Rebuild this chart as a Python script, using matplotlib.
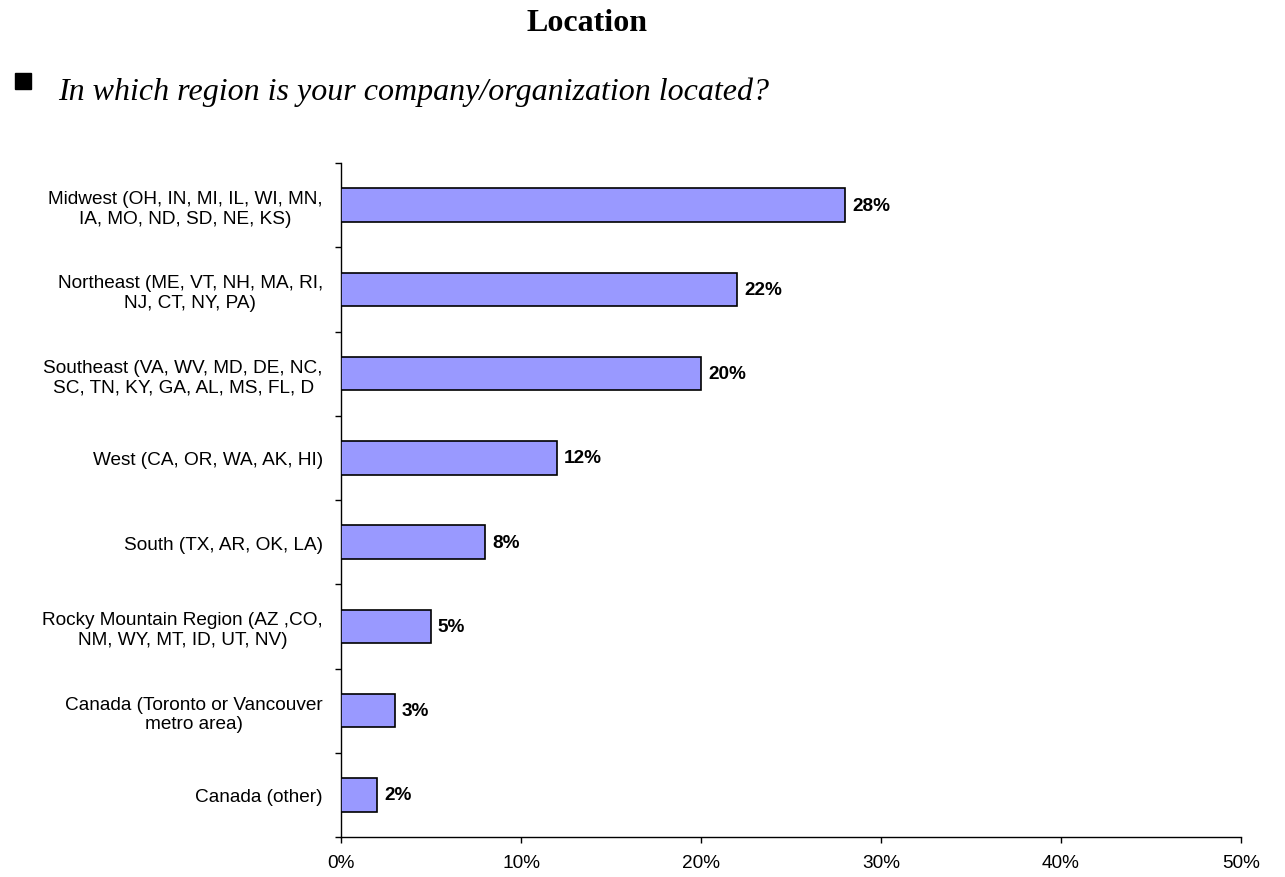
import matplotlib
matplotlib.use("Agg")
import matplotlib.pyplot as plt
import numpy as np
from matplotlib.ticker import FuncFormatter, FixedLocator

categories = [
    "Midwest (OH, IN, MI, IL, WI, MN,\nIA, MO, ND, SD, NE, KS)",
    "Northeast (ME, VT, NH, MA, RI,\nNJ, CT, NY, PA)",
    "Southeast (VA, WV, MD, DE, NC,\nSC, TN, KY, GA, AL, MS, FL, D",
    "West (CA, OR, WA, AK, HI)",
    "South (TX, AR, OK, LA)",
    "Rocky Mountain Region (AZ ,CO,\nNM, WY, MT, ID, UT, NV)",
    "Canada (Toronto or Vancouver\nmetro area)",
    "Canada (other)",
]
values = [28, 22, 20, 12, 8, 5, 3, 2]
x_ticks = [0, 10, 20, 30, 40, 50]

title = "Location"
question = "In which region is your company/organization located?"

plt.rcParams["font.family"] = ["Liberation Sans", "DejaVu Sans"]

W, H = 1285, 878
fig = plt.figure(figsize=(W / 100, H / 100), dpi=100)
ax = fig.add_axes([341 / W, (H - 838) / H, 900 / W, 674 / H])

n = len(categories)
ypos = np.arange(n)
ax.barh(ypos, values, height=0.4, color="#9999FF", edgecolor="black", linewidth=1.2, zorder=3)

for y, v in zip(ypos, values):
    ax.annotate(f"{v}%", (v, y), xytext=(5, 0), textcoords="offset points",
                va="center", ha="left", fontsize=13.7, fontweight="bold")

ax.set_xlim(0, 50)
ax.set_ylim(n - 0.5, -0.5)
ax.set_xticks(x_ticks)
ax.xaxis.set_major_formatter(FuncFormatter(lambda v, p: f"{v:.0f}%"))
ax.set_yticks(ypos)
ax.set_yticklabels(categories, fontsize=13.7, ha="right", multialignment="center")
ax.yaxis.set_minor_locator(FixedLocator(np.arange(n + 1) - 0.5))
ax.tick_params(axis="y", which="major", length=0, pad=13)
ax.tick_params(axis="y", which="minor", length=4.5, width=1, direction="out")
ax.tick_params(axis="x", which="major", length=4.5, width=1, direction="out", pad=8,
               labelsize=13.7)

for side in ("top", "right"):
    ax.spines[side].set_visible(False)
for side in ("left", "bottom"):
    ax.spines[side].set_linewidth(1)

fig.text(587 / W, 1 - 31 / H, title, ha="center", va="baseline",
         fontsize=23, fontweight="bold", family="Liberation Serif")
fig.patches.append(plt.Rectangle((15 / W, 1 - 90 / H), 16 / W, 16 / H,
                                 transform=fig.transFigure, color="black", figure=fig))
fig.text(58 / W, 1 - 100 / H, question, ha="left", va="baseline",
         fontsize=23, style="italic", family="Liberation Serif")

fig.savefig("out.png", dpi=100)
